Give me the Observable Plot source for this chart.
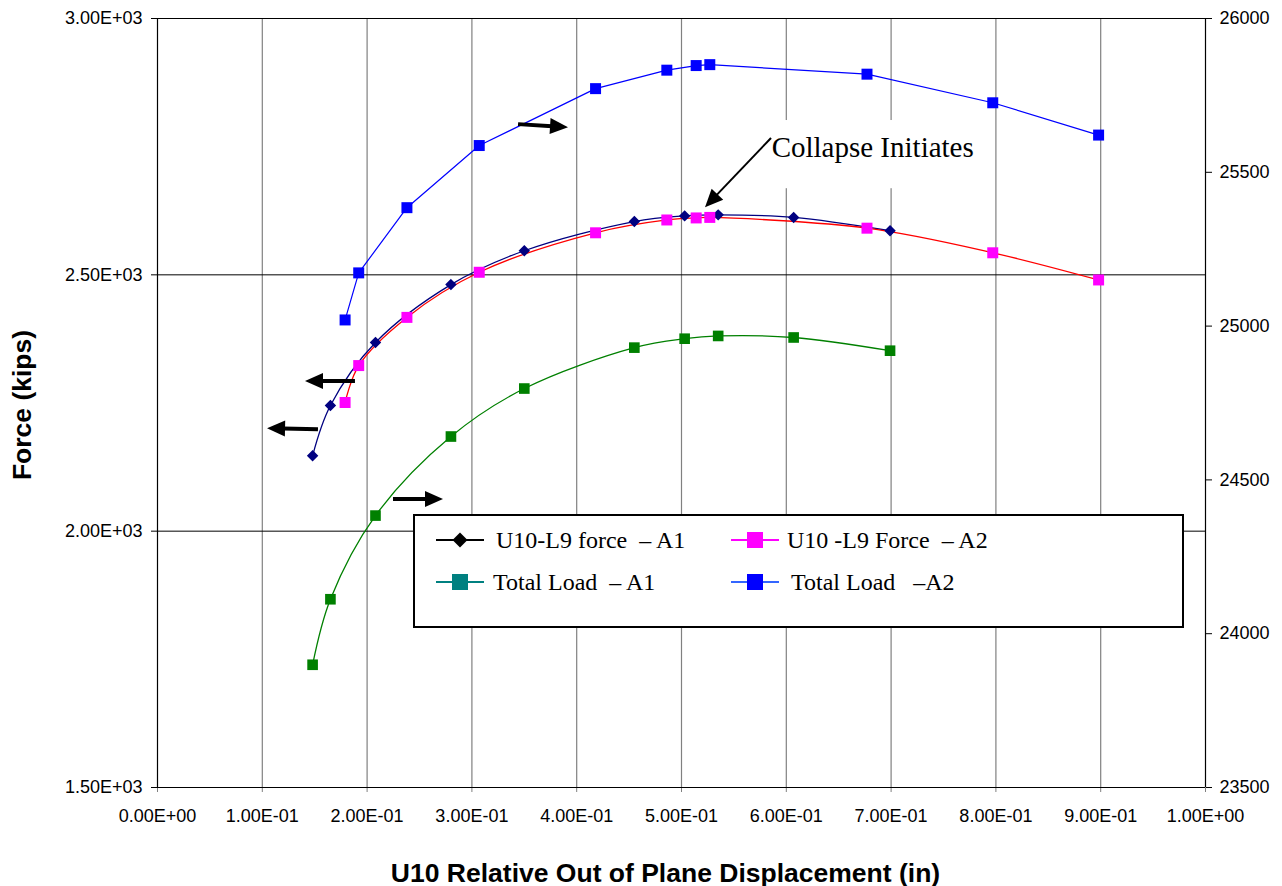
<!DOCTYPE html>
<html><head><meta charset="utf-8">
<script src="https://cdn.jsdelivr.net/npm/d3@7"></script>
<script src="https://cdn.jsdelivr.net/npm/@observablehq/plot@0.6"></script>
<style>
body{margin:0;background:#fff;}
#wrap{position:relative;width:1282px;height:886px;overflow:hidden;}
#legend{position:absolute;left:413px;top:514px;width:771px;height:114px;box-sizing:border-box;border:2px solid #000;background:#fff;font-family:"Liberation Serif","Times New Roman",serif;font-size:24px;color:#000;}
.sw{position:absolute;}
.lt{position:absolute;white-space:pre;line-height:30px;height:30px;}
</style></head><body><div id="wrap"></div>
<script>
// ---------- data ----------
const dispA1  = [0.148, 0.165, 0.208, 0.280, 0.350, 0.455, 0.503, 0.535, 0.607, 0.699];
const forceA1 = [2147, 2245, 2368, 2481, 2547, 2604, 2615, 2617, 2612, 2586];
const loadA1  = [23899, 24112, 24384, 24641, 24797, 24930, 24959, 24968, 24963, 24920];

const dispA2  = [0.179, 0.192, 0.238, 0.307, 0.418, 0.486, 0.514, 0.527, 0.677, 0.797, 0.898];
const forceA2 = [2251, 2323, 2417, 2505, 2582, 2607, 2611, 2612, 2591, 2543, 2490];
const loadA2  = [25020, 25173, 25385, 25587, 25772, 25832, 25847, 25850, 25819, 25726, 25621];

const seriesNames = ["U10-L9 force  – A1", "U10 -L9 Force  – A2", "Total Load  – A1", "Total Load   –A2"];

const xTicks = [0, 0.1, 0.2, 0.3, 0.4, 0.5, 0.6, 0.7, 0.8, 0.9, 1.0];
const xGrid = [0.1, 0.2, 0.3, 0.4, 0.5, 0.6, 0.7, 0.8, 0.9];
const leftTicks = [1500, 2000, 2500, 3000];
const leftGrid = [2000, 2500, 3000];
const rightTicks = [23500, 24000, 24500, 25000, 25500, 26000];
const leftDomain = [1500, 3000];
const rightDomain = [23500, 26000];

const xTitle = "U10 Relative Out of Plane Displacement (in)";
const yTitle = "Force (kips)";

// annotations (data units: x displacement, y left-axis force)
const noteText = "Collapse Initiates";
const noteAt = [0.586, 2748];
const noteBox = [0.583, 0.785, 2668, 2801];
const arrowTail = [[0.3445, 2793], [0.1889, 2292], [0.1536, 2198], [0.2252, 2062], [0.5859, 2766]];
const arrowTip  = [[0.3922, 2787], [0.1412, 2292], [0.1050, 2200], [0.2729, 2062], [0.5229, 2631]];
const arrowShaft = [4, 4, 4, 4, 2];

// ---------- helpers ----------
const toLeft = v => leftDomain[0] + (v - rightDomain[0]) * (leftDomain[1] - leftDomain[0]) / (rightDomain[1] - rightDomain[0]);
const fromLeft = v => rightDomain[0] + (v - leftDomain[0]) * (rightDomain[1] - rightDomain[0]) / (leftDomain[1] - leftDomain[0]);
const sci = d => {
  const s = (+d).toExponential(2);
  const [m, e] = s.split("e");
  const n = +e;
  return m + "E" + (n < 0 ? "-" : "+") + String(Math.abs(n)).padStart(2, "0");
};

const A1 = dispA1.map((x, i) => ({x, f: forceA1[i], l: toLeft(loadA1[i])}));
const A2 = dispA2.map((x, i) => ({x, f: forceA2[i], l: toLeft(loadA2[i])}));

const plot = Plot.plot({
  width: 1282, height: 886,
  marginTop: 18, marginBottom: 99, marginLeft: 157, marginRight: 77,
  style: {fontFamily: "'Liberation Sans', Arial, sans-serif", fontSize: "18px", color: "#000", background: "#fff"},
  x: {domain: [0, 1]},
  y: {domain: leftDomain},
  marks: [
    Plot.ruleX(xGrid, {y1: leftDomain[0], y2: leftDomain[1], stroke: "#808080", strokeWidth: 1.2}),
    Plot.ruleY(leftGrid, {stroke: "#000", strokeWidth: 1}),
    Plot.axisX({ticks: xTicks, tickFormat: sci, tickSize: 5, tickPadding: 17, stroke: "#808080", label: null, fontSize: 18}),
    Plot.axisY({anchor: "left", ticks: leftTicks, tickFormat: d => sci(d), tickSize: 6, tickPadding: 9, label: null, fontSize: 18}),
    Plot.axisY({anchor: "right", ticks: rightTicks.map(toLeft), tickFormat: d => String(Math.round(fromLeft(d))), tickSize: 6, tickPadding: 8, label: null, fontSize: 18}),
    Plot.ruleX([0, 1], {y1: leftDomain[0], y2: leftDomain[1], stroke: "#000", strokeWidth: 1.2}),
    Plot.ruleY([leftDomain[0]], {stroke: "#000", strokeWidth: 1.2}),
    Plot.rect([noteBox], {x1: d => d[0], x2: d => d[1], y1: d => d[2], y2: d => d[3], fill: "#fff"}),
    Plot.text([noteText], {x: noteAt[0], y: noteAt[1], text: d => d, textAnchor: "start", fontFamily: "'Liberation Serif', 'Times New Roman', serif", fontSize: 29}),
    // series lines
    Plot.line(A1, {x: "x", y: "f", stroke: "#000080", strokeWidth: 1.3, curve: "catmull-rom"}),
    Plot.line(A2, {x: "x", y: "f", stroke: "#FF0000", strokeWidth: 1.3, curve: "catmull-rom"}),
    Plot.line(A1, {x: "x", y: "l", stroke: "#008000", strokeWidth: 1.3, curve: "catmull-rom"}),
    Plot.line(A2, {x: "x", y: "l", stroke: "#0000FF", strokeWidth: 1.2}),
    // markers
    Plot.dot(A1, {x: "x", y: "f", symbol: "diamond2", r: 4.2, fill: "#000080", stroke: "#000080"}),
    Plot.dot(A2, {x: "x", y: "f", symbol: "square", r: 6.2, fill: "#FF00FF"}),
    Plot.dot(A1, {x: "x", y: "l", symbol: "square", r: 6.0, fill: "#008000"}),
    Plot.dot(A2, {x: "x", y: "l", symbol: "square", r: 6.2, fill: "#0000FF"}),
    // titles
    Plot.text([xTitle], {frameAnchor: "bottom", dy: 94, dx: -16, text: d => d, fontWeight: "bold", fontSize: 26.5, fontFamily: "'Liberation Sans', Arial, sans-serif"}),
    Plot.text([yTitle], {frameAnchor: "left", textAnchor: "middle", lineAnchor: "middle", dx: -135, dy: 2, rotate: -90, text: d => d, fontWeight: "bold", fontSize: 26.5, fontFamily: "'Liberation Sans', Arial, sans-serif"})
  ]
});

// arrows drawn through the plot's own scales
const sx = plot.scale("x"), sy = plot.scale("y");
const g = d3.select(plot).append("g").attr("class", "arrows");
arrowTail.forEach((t, i) => {
  const x0 = sx.apply(t[0]), y0 = sy.apply(t[1]);
  const x1 = sx.apply(arrowTip[i][0]), y1 = sy.apply(arrowTip[i][1]);
  const dx = x1 - x0, dy = y1 - y0, len = Math.hypot(dx, dy);
  const ux = dx / len, uy = dy / len;
  const hl = 18, hw = 8;
  const bx = x1 - ux * hl, by = y1 - uy * hl;
  g.append("line").attr("x1", x0).attr("y1", y0).attr("x2", bx + ux * 2).attr("y2", by + uy * 2)
    .attr("stroke", "#000").attr("stroke-width", arrowShaft[i]);
  g.append("polygon").attr("points", [[x1, y1], [bx - uy * hw, by + ux * hw], [bx + uy * hw, by - ux * hw]].map(p => p.join(",")).join(" "))
    .attr("fill", "#000");
});

const wrap = document.getElementById("wrap");
wrap.appendChild(plot);

// legend (HTML overlay)
const legend = document.createElement("div");
legend.id = "legend";
const glyphs = [
  {line: "#000000", fill: "#000000", shape: "diamond", lx: 21, tx: 81, row: 0},
  {line: "#FF00FF", fill: "#FF00FF", shape: "square", lx: 316, tx: 372, row: 0},
  {line: "#008080", fill: "#008080", shape: "square", lx: 21, tx: 78, row: 1},
  {line: "#3366FF", fill: "#0000FF", shape: "square", lx: 316, tx: 376, row: 1}
];
const rowY = [24, 66];
glyphs.forEach((gl, i) => {
  const s = d3.create("svg").attr("class", "sw").attr("width", 48).attr("height", 18)
    .style("left", gl.lx + "px").style("top", (rowY[gl.row] - 9) + "px");
  s.append("line").attr("x1", 0).attr("x2", 48).attr("y1", 9).attr("y2", 9).attr("stroke", gl.line).attr("stroke-width", 2);
  if (gl.shape === "diamond") s.append("path").attr("d", "M24,1.5L31.5,9L24,16.5L16.5,9Z").attr("fill", gl.fill);
  else s.append("rect").attr("x", 16).attr("y", 1).attr("width", 16).attr("height", 16).attr("fill", gl.fill);
  legend.appendChild(s.node());
  const t = document.createElement("div");
  t.className = "lt";
  t.textContent = seriesNames[i];
  t.style.left = gl.tx + "px";
  t.style.top = (rowY[gl.row] - 15) + "px";
  legend.appendChild(t);
});
wrap.appendChild(legend);
</script>
</body></html>
